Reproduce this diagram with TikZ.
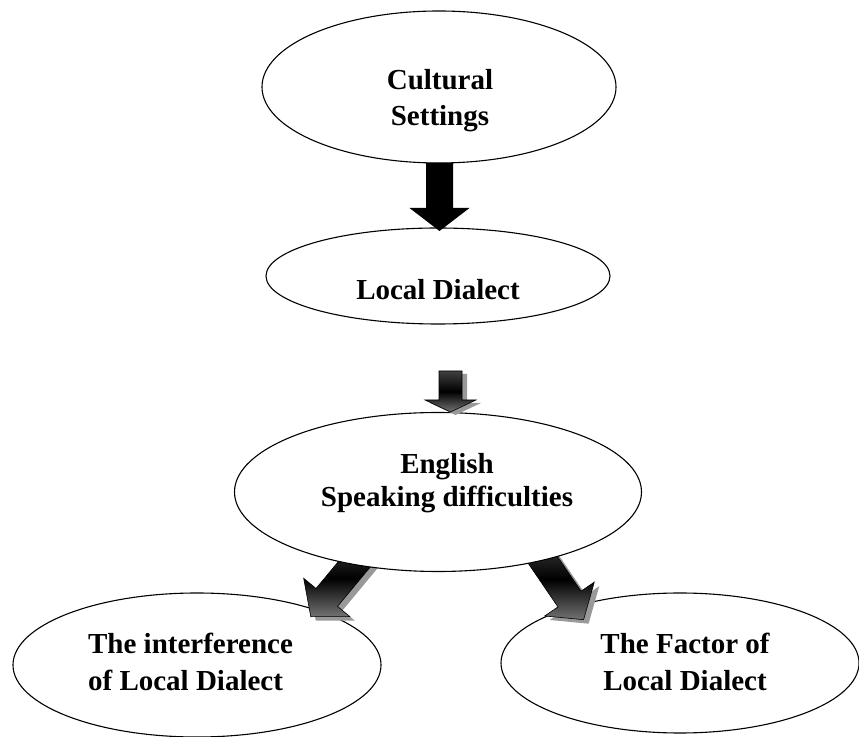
\documentclass[tikz,border=0pt]{standalone}
\usepackage{fontspec}
\setmainfont{Liberation Serif}
\usetikzlibrary{shapes.geometric,calc}
\newcommand\arrowpath[4]{(0,-#3) -- (#1-#2,-#3) -- (#1-#2,-#4) -- (#1,0) -- (#1-#2,#4) -- (#1-#2,#3) -- (0,#3) -- cycle}
\tikzset{
  oval/.style={ellipse, draw=black, line width=1.1pt, fill=white, inner sep=0pt},
  lbl/.style={font=\bfseries\fontsize{29}{36}\selectfont, inner sep=0pt},
  arrowshadow/.style={fill=black!40},
  grayarrow/.style={draw=black, line width=0.6pt, top color=black!75, bottom color=black!55, middle color=black},
  blackarrow/.style={fill=black}
}
\begin{document}
\begin{tikzpicture}[x=1pt,y=1pt]
\useasboundingbox (0,0) rectangle (859,736);
% bottom ellipses
\node[oval, minimum width=368, minimum height=144] (il) at (197,71) {};
\node[oval, minimum width=358, minimum height=140] (fl) at (680,73) {};
% diagonal arrows (under the middle ellipse)
\coordinate (a3) at (367,187);
\coordinate (a4) at (534,189);
\begin{scope}[shift={($(a3)+(5,-4)$)}, rotate=230.3]
  \fill[arrowshadow] \arrowpath{88}{25}{14}{30};
\end{scope}
\begin{scope}[shift={(a3)}, rotate=230.3]
  \path[grayarrow] \arrowpath{88}{25}{14}{30};
\end{scope}
\begin{scope}[shift={($(a4)+(5,-4)$)}, rotate=-55.7]
  \fill[arrowshadow] \arrowpath{88}{25}{14}{30};
\end{scope}
\begin{scope}[shift={(a4)}, rotate=-55.7]
  \path[grayarrow] \arrowpath{88}{25}{14}{30};
\end{scope}
% middle and top ellipses
\node[oval, minimum width=407, minimum height=159] (esd) at (438,244) {};
\node[oval, minimum width=354, minimum height=152] (cs) at (439,649) {};
\node[oval, minimum width=344, minimum height=96] (ld) at (438,460) {};
% texts
\node[lbl, align=center] (tcs) at (440,635) {Cultural\\Settings};
\node[lbl] (tld) at (438,446) {Local Dialect};
\node[lbl, align=center, font=\bfseries\fontsize{29}{33}\selectfont] (tesd) at (447,252.5) {English\\Speaking difficulties};
\node[lbl, align=left, font=\bfseries\fontsize{29}{37}\selectfont] (til) at (190.5,74.5) {The interference\\of Local Dialect};
\node[lbl, align=center, font=\bfseries\fontsize{29}{37}\selectfont] (tfl) at (685,74.5) {The Factor of\\Local Dialect};
% vertical arrows
\coordinate (a1) at (439.5,573);
\coordinate (a2) at (450.5,365);
\begin{scope}[shift={(a1)}, rotate=-90]
  \path[blackarrow] \arrowpath{68}{23}{13.5}{30};
\end{scope}
\begin{scope}[shift={($(a2)+(5,-3)$)}, rotate=-90]
  \fill[arrowshadow] \arrowpath{41}{12}{11.5}{25.5};
\end{scope}
\begin{scope}[shift={(a2)}, rotate=-90]
  \path[grayarrow] \arrowpath{41}{12}{11.5}{25.5};
\end{scope}
\end{tikzpicture}
\end{document}
